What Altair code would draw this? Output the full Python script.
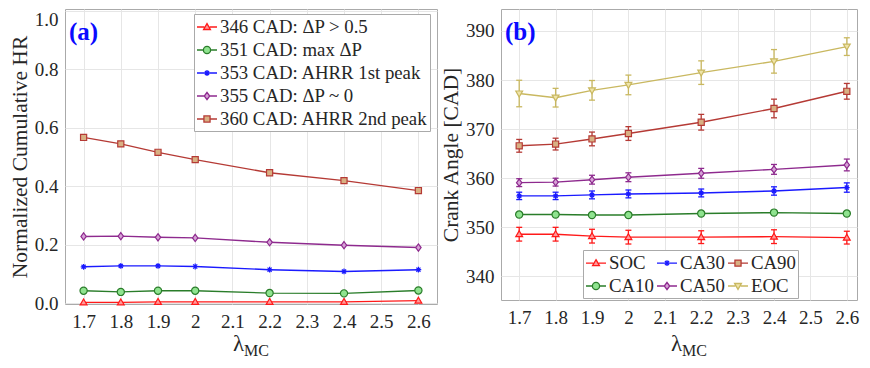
import altair as alt
import pandas as pd

# ---------------- data ----------------
lam = [1.7, 1.8, 1.9, 2.0, 2.2, 2.4, 2.6]
x_ticks = [1.7, 1.8, 1.9, 2.0, 2.1, 2.2, 2.3, 2.4, 2.5, 2.6]

# panel (a): normalized cumulative heat release
hr_names = ["346 CAD: ΔP > 0.5", "351 CAD: max ΔP", "353 CAD: AHRR 1st peak",
            "355 CAD: ΔP ~ 0", "360 CAD: AHRR 2nd peak"]
hr_346 = [0.002, 0.002, 0.004, 0.004, 0.004, 0.004, 0.008]
hr_351 = [0.042, 0.038, 0.042, 0.042, 0.034, 0.033, 0.043]
hr_353 = [0.124, 0.127, 0.127, 0.125, 0.114, 0.108, 0.114]
hr_355 = [0.228, 0.229, 0.225, 0.223, 0.208, 0.198, 0.190]
hr_360 = [0.567, 0.545, 0.516, 0.491, 0.446, 0.419, 0.385]
y_ticks_a = [0.0, 0.2, 0.4, 0.6, 0.8, 1.0]

# panel (b): crank angles with error bars
ca_names = ["SOC", "CA10", "CA30", "CA50", "CA90", "EOC"]
soc = [348.6, 348.6, 348.2, 348.0, 348.0, 348.1, 347.9]
soc_err = [1.4, 1.4, 1.4, 1.4, 1.3, 1.4, 1.3]
ca10 = [352.6, 352.6, 352.5, 352.5, 352.8, 353.0, 352.8]
ca10_err = [0.4, 0.4, 0.4, 0.4, 0.4, 0.4, 0.4]
ca30 = [356.4, 356.4, 356.6, 356.8, 357.0, 357.4, 358.1]
ca30_err = [0.75, 0.75, 0.8, 0.8, 0.8, 0.85, 0.95]
ca50 = [359.1, 359.2, 359.7, 360.2, 361.0, 361.8, 362.7]
ca50_err = [0.8, 0.8, 0.9, 0.9, 1.0, 1.0, 1.2]
ca90 = [366.6, 366.95, 368.0, 369.1, 371.4, 374.2, 377.7]
ca90_err = [1.3, 1.2, 1.4, 1.4, 1.6, 1.9, 1.6]
eoc = [377.25, 376.4, 377.9, 379.0, 381.5, 383.8, 386.8]
eoc_err = [2.7, 1.9, 2.0, 2.0, 2.4, 2.4, 1.8]
y_ticks_b = [340, 350, 360, 370, 380, 390]

# ---------------- style ----------------
FONT = "Liberation Serif"
TXT = "#262626"
RED = ("#ff1a1a", "#ff9a9a", "tri_up")
GREEN = ("#2a7d2a", "#8fe38f", "circle")
BLUE = ("#1a1aff", "#1a1aff", "asterisk")
PURPLE = ("#8e2a8e", "#d6a3d6", "diamond")
BROWN = ("#b53a35", "#d8b083", "square")
KHAKI = ("#c9b860", "#efe4a8", "tri_down")

style_a = dict(zip(hr_names, [RED, GREEN, BLUE, PURPLE, BROWN]))
style_b = dict(zip(ca_names, [RED, GREEN, BLUE, PURPLE, BROWN, KHAKI]))


def shape_path(kind, s=1.0, stub=False):
    def f(v):
        return f"{v * s:.3f}"
    if kind == "circle":
        r = 1.0
        body = (f"M{f(-r)},0A{f(r)},{f(r)} 0 1,0 {f(r)},0"
                f"A{f(r)},{f(r)} 0 1,0 {f(-r)},0Z")
        half = r
    elif kind == "asterisk":
        a, d = 0.8, 0.57
        body = (f"M{f(-a)},0H{f(a)}M0,{f(-a)}V{f(a)}"
                f"M{f(-d)},{f(-d)}L{f(d)},{f(d)}M{f(-d)},{f(d)}L{f(d)},{f(-d)}")
        half = 0
    else:
        pts = {
            "tri_up": [(0, -0.95), (0.95, 0.7), (-0.95, 0.7)],
            "tri_down": [(0, 0.95), (0.95, -0.7), (-0.95, -0.7)],
            "diamond": [(0, -1.0), (0.75, 0), (0, 1.0), (-0.75, 0)],
            "square": [(-0.85, -0.85), (0.85, -0.85), (0.85, 0.85), (-0.85, 0.85)],
        }[kind]
        body = "M" + "L".join(f"{f(px)},{f(py)}" for px, py in pts) + "Z"
        half = {"tri_up": 0.75, "tri_down": 0.75, "diamond": 0.75, "square": 0.85}[kind]
    if stub:
        if half == 0:
            body = "M-1,0H1" + body
        else:
            e = half * s
            body = f"M-1,0H{-e:.3f}M{e:.3f},0H1" + body
    return body


def long_df(names, series, errs=None):
    rows = []
    for i, n in enumerate(names):
        for j, xv in enumerate(lam):
            r = {"series": n, "lam": xv, "val": series[i][j]}
            if errs is not None:
                r["lo"] = series[i][j] - errs[i][j]
                r["hi"] = series[i][j] + errs[i][j]
            rows.append(r)
    return pd.DataFrame(rows)


df_a = long_df(hr_names, [hr_346, hr_351, hr_353, hr_355, hr_360])
df_b = long_df(ca_names, [soc, ca10, ca30, ca50, ca90, eoc],
               [soc_err, ca10_err, ca30_err, ca50_err, ca90_err, eoc_err])

LAMBDA_BASE = 349   # baseline of the x title, relative to top of plot areas
SUB_BASE = 347      # baseline of the subscript, relative to plot top


def build_panel(df, order, style, xmax, width, ydom, yticks, yfmt, ytitle, height,
                legend_kw, tag, has_err, lam_x, top_label=None):
    line_c = [style[n][0] for n in order]
    fill_c = [style[n][1] for n in order]
    shp = [shape_path(style[n][2]) for n in order]
    leg_shp = [shape_path(style[n][2], 0.36, True) for n in order]

    xax = alt.Axis(values=x_ticks, format=".2~f", title="λ", titleFontSize=23,
                   titleX=lam_x, titleY=LAMBDA_BASE - 8 - height, titleBaseline="alphabetic",
                   titleAlign="center", labelPadding=8)
    ykw = dict(values=yticks, format=yfmt, title=ytitle, titleFontSize=21.5,
               titlePadding=3, labelPadding=7)
    if top_label is not None:
        ykw["labelBaseline"] = {"condition": {"test": f"datum.value >= {top_label}", "value": "top"},
                                "value": "middle"}
    yax = alt.Axis(**ykw)
    X = alt.X("lam:Q", scale=alt.Scale(domain=[1.65, xmax], nice=False, zero=False), axis=xax)
    Y = alt.Y("val:Q", scale=alt.Scale(domain=ydom, nice=False, zero=False), axis=yax)

    def stroke(leg=None):
        return alt.Stroke("series:N", scale=alt.Scale(domain=order, range=line_c), legend=leg)

    def fill(leg=None):
        return alt.Fill("series:N", scale=alt.Scale(domain=order, range=fill_c), legend=leg)

    base = alt.Chart(df)
    layers = [base.mark_line(strokeWidth=1.4).encode(x=X, y=Y, stroke=stroke(), detail="series:N")]
    if has_err:
        Ylo = alt.Y("lo:Q", scale=alt.Scale(domain=ydom, nice=False, zero=False), axis=yax)
        Yhi = alt.Y("hi:Q", scale=alt.Scale(domain=ydom, nice=False, zero=False), axis=yax)
        layers.append(base.mark_rule(strokeWidth=1.3).encode(x=X, y=Ylo, y2="hi:Q", stroke=stroke()))
        for yy in (Ylo, Yhi):
            layers.append(base.mark_tick(orient="horizontal", size=6, thickness=1.3, opacity=1).encode(
                x=X, y=yy,
                color=alt.Color("series:N", scale=alt.Scale(domain=order, range=line_c), legend=None)))
    layers.append(base.mark_point(filled=True, size=52, strokeWidth=1.2, opacity=1).encode(
        x=X, y=Y, stroke=stroke(), fill=fill(),
        shape=alt.Shape("series:N", scale=alt.Scale(domain=order, range=shp), legend=None)))
    leg = alt.Legend(title=None, orient="none", labelFont=FONT, labelFontSize=18.8,
                     labelColor=TXT, symbolSize=400, symbolStrokeWidth=1.3,
                     symbolOpacity=1, labelOffset=2, padding=2, rowPadding=2,
                     strokeColor="#aaaaaa", fillColor="white", labelLimit=400,
                     **legend_kw)
    layers.append(base.mark_point(filled=True, size=52, opacity=0).encode(
        x=X, y=Y, stroke=stroke(leg), fill=fill(leg),
        shape=alt.Shape("series:N", scale=alt.Scale(domain=order, range=leg_shp), legend=leg)))
    tdf = pd.DataFrame({"t": [tag]})
    layers.append(alt.Chart(tdf).mark_text(font=FONT, fontSize=25, fontWeight="bold",
                                           color="#0a0aff", align="left", baseline="middle").encode(
        x=alt.value(4), y=alt.value(23), text="t:N"))
    sdf = pd.DataFrame({"t": ["MC"]})
    layers.append(alt.Chart(sdf).mark_text(font=FONT, fontSize=16, color=TXT, align="left",
                                           baseline="alphabetic").encode(
        x=alt.value(lam_x + 6), y=alt.value(SUB_BASE), text="t:N"))
    return alt.layer(*layers).resolve_scale(
        stroke="independent", fill="independent", shape="independent", color="independent"
    ).properties(width=width, height=height)


pa = build_panel(df_a, hr_names, style_a, 2.65, 372, [-0.0034, 1.0068], y_ticks_a, ".1f",
                 "Normalized Cumulative HR", 295,
                 dict(legendX=129, legendY=5, columns=1), "(a)", False, 173, top_label=0.99)
pb = build_panel(df_b, ca_names, style_b, 2.628, 356, [335.2, 394.46], y_ticks_b, "d",
                 "Crank Angle [CAD]", 291,
                 dict(legendX=82, legendY=241, columns=3, columnPadding=0), "(b)", True, 175)

chart = alt.hconcat(pa, pb, spacing=2).properties(
    padding={"left": 0, "top": 0, "right": 0, "bottom": 0}
).configure_view(stroke="#aaaaaa", strokeWidth=1).configure_axis(
    labelFont=FONT, labelFontSize=19, labelColor=TXT, titleFont=FONT,
    titleFontWeight="normal", titleColor=TXT, gridColor="#e6e6e6", gridWidth=1,
    domain=False, ticks=False
)

chart.save("out.html", embed_options={"renderer": "svg", "actions": False})
